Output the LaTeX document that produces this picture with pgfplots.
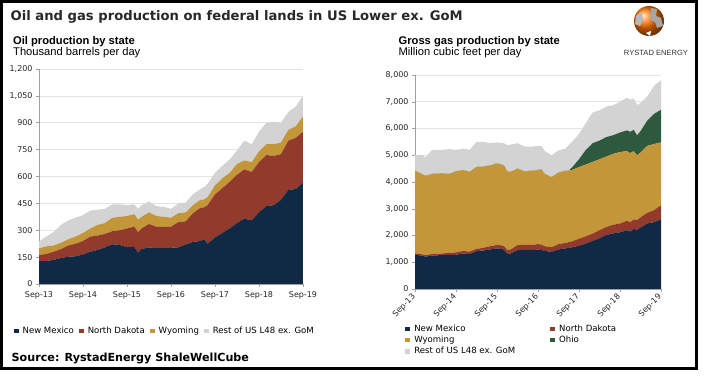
\documentclass[border=0pt]{standalone}
\usepackage{pgfplots}
\pgfplotsset{compat=1.18}
\usepackage{pgfplotstable}
\usepackage{fontspec}
\setmainfont{DejaVu Sans}
\newfontfamily\arial{Liberation Sans}

\definecolor{nm}{RGB}{16,42,70}
\definecolor{nd}{RGB}{146,58,43}
\definecolor{wy}{RGB}{196,150,58}
\definecolor{rest}{RGB}{211,211,211}
\definecolor{oh}{RGB}{45,90,62}
\definecolor{axisgray}{RGB}{160,160,160}
\definecolor{gridgray}{RGB}{228,228,228}
\definecolor{titlegray}{RGB}{40,40,40}

% Oil (thousand barrels per day), month index from Sep-13
\pgfplotstableread{
i  NM  ND  WY  R
0  128 34  37  38
2  128 40  42  55
4  135 45  35  75
6  145 50  35  100
8  152 63  35  105
10 155 70  40  105
12 165 75  45  100
14 180 85  45  100
16 190 80  60  85
18 205 75  60  80
20 222 73  75  75
22 218 82  75  70
24 205 105 70  60
26 208 112 70  55
27 175 115 70  60
28 195 115 65  65
30 205 130 65  60
32 200 120 60  55
34 200 118 57  55
36 202 118 50  50
38 205 140 50  55
40 220 130 50  55
42 235 160 45  60
44 240 185 45  60
45 250 178 44  68
46 225 215 45  75
48 260 240 50  70
50 285 250 55  70
52 310 260 50  75
54 340 270 60  75
56 365 275 50  110
58 355 270 55  100
60 400 280 60  110
62 435 285 60  120
64 440 275 65  125
66 470 255 65  110
68 525 275 60  100
70 530 285 65  110
72 565 285 85  115
}\oiltab

% Gas (million cubic feet per day)
\pgfplotstableread{
i  NM   ND  WY   OH   R
0  1280 40  3100 0    580
2  1250 50  3000 0    720
3  1210 50  2970 0    690
5  1250 60  2990 0    900
8  1270 60  3000 0    870
10 1280 70  2950 0    930
12 1280 90  3030 0    800
14 1330 90  3030 0    800
16 1300 100 2980 0    820
18 1420 80  3060 0    940
20 1440 100 3040 0    920
22 1480 120 3020 0    830
24 1520 130 3050 0    780
26 1480 140 3000 0    830
27 1310 140 2950 0    980
28 1330 150 2900 0    1020
30 1450 190 2860 0    950
32 1460 190 2750 0    930
34 1460 190 2770 0    900
36 1470 210 2770 0    900
37 1460 200 2810 0    880
38 1420 180 2700 0    850
40 1390 170 2620 0    820
42 1480 200 2670 0    830
44 1520 200 2700 0    830
45 1530 220 2680 0    950
46 1560 220 2670 100  950
48 1620 260 2680 290  950
50 1700 270 2680 550  1000
52 1800 270 2680 700  1150
54 1900 300 2650 700  1130
56 2020 300 2630 730  1140
58 2080 320 2650 700  1120
60 2120 330 2670 730  1150
62 2200 350 2600 780  1220
63 2150 350 2580 800  1200
64 2250 350 2550 800  1170
65 2200 380 2420 750  1130
66 2300 380 2420 800  1050
68 2450 400 2500 950  900
70 2500 450 2470 1130 1050
72 2600 530 2350 1220 1100
}\gastab

\pgfplotsset{
  mystyle/.style={
    scale only axis,
    xmin=0, xmax=72, ymin=0,
    axis x line*=bottom, axis y line*=left,
    axis line style={axisgray,-, line width=0.6bp},
    tick style={axisgray, line width=0.5bp},
    tick align=outside,
    major tick length=3bp,
    xtick={0,12,...,72},
    xticklabels={Sep-13,Sep-14,Sep-15,Sep-16,Sep-17,Sep-18,Sep-19},
    ymajorgrids, grid style={gridgray, line width=0.6bp},
    ticklabel style={font=\fontsize{8}{9}\selectfont, text=black!85},
    /pgf/number format/assume math mode=true,
    /pgf/number format/1000 sep={,},
    stack plots=y, area style,
    axis on top=false,
    legend image code/.code={\fill[##1] (0bp,-2.2bp) rectangle (4.4bp,2.2bp);},
    legend cell align=left,
  }
}

\begin{document}
\begin{tikzpicture}
\fill[white] (0,0) rectangle (704bp,378bp);
\draw[black, line width=3bp] (1.5bp,9.5bp) rectangle (696.5bp,376.5bp);

% Titles
\node[anchor=base west, inner sep=0, text=titlegray, font=\bfseries\fontsize{13.2}{15}\selectfont] at (10.5bp,357.5bp) {Oil and gas production on federal lands in US Lower ex. GoM};
\node[anchor=base west, inner sep=0, font=\arial\bfseries\fontsize{11.2}{13}\selectfont] at (13bp,333.5bp) {Oil production by state};
\node[anchor=base west, inner sep=0, font=\arial\fontsize{11.2}{13}\selectfont] at (13bp,322bp) {Thousand barrels per day};
\node[anchor=base west, inner sep=0, font=\arial\bfseries\fontsize{11.2}{13}\selectfont] at (398.5bp,333.5bp) {Gross gas production by state};
\node[anchor=base west, inner sep=0, font=\arial\fontsize{11.2}{13}\selectfont] at (398.5bp,322bp) {Million cubic feet per day};
\node[anchor=base west, inner sep=0, font=\bfseries\fontsize{11.2}{13}\selectfont] at (11.5bp,16.5bp) {Source: RystadEnergy ShaleWellCube};

% Logo
\shade[ball color=orange!90!red] (649bp,357bp) circle (15bp);
\fill[gray!70] (651bp,370bp) -- (657bp,369bp) -- (656bp,362bp) -- (661bp,360bp) -- (663bp,352bp) -- (657bp,350bp) -- (655bp,356bp) -- (650bp,358bp) -- cycle;
\fill[gray!55] (636bp,362bp) -- (641bp,366bp) -- (643bp,358bp) -- (640bp,352bp) -- (635bp,354bp) -- cycle;
\fill[white] (646bp,345bp) -- (651bp,347bp) -- (650bp,342bp) -- cycle;
\node[anchor=base, inner sep=0, text=black!80, font=\arial\fontsize{7.6}{9}\selectfont] at (656bp,322bp) {RYSTAD ENERGY};

% Oil chart
\begin{axis}[mystyle,
  at={(39bp,94bp)}, anchor=south west,
  width=264bp, height=215bp,
  ymax=1200, ytick={0,150,...,1200},
  xticklabel shift=1.5bp,
  legend columns=-1,
  legend style={at={(-0.0947,-0.219)}, anchor=west, draw=none, fill=none,
    font=\fontsize{8.6}{9.5}\selectfont, inner sep=0pt,
    /tikz/every odd column/.append style={column sep=2bp},
    /tikz/every even column/.append style={column sep=3.5bp}},
]
\addplot[fill=nm, draw=none] table[x=i,y=NM]{\oiltab} \closedcycle;
\addplot[fill=nd, draw=none] table[x=i,y=ND]{\oiltab} \closedcycle;
\addplot[fill=wy, draw=none] table[x=i,y=WY]{\oiltab} \closedcycle;
\addplot[fill=rest, draw=none] table[x=i,y=R]{\oiltab} \closedcycle;
\legend{New Mexico, North Dakota, Wyoming, Rest of US L48 ex. GoM}
\end{axis}

% Gas chart
\begin{axis}[mystyle,
  at={(415bp,89bp)}, anchor=south west,
  width=246bp, height=214bp,
  ymax=8000, ytick={0,1000,...,8000},
  xticklabel style={rotate=45, anchor=east, inner sep=1pt},
  xticklabel shift=3bp,
  legend columns=2,
  legend style={at={(-0.04,-0.158)}, anchor=north west, draw=none, fill=none,
    font=\fontsize{8.6}{9.6}\selectfont, inner sep=0pt, row sep=-0.8bp,
    /tikz/every odd column/.append style={column sep=2.5bp},
    /tikz/column 2/.append style={column sep=33bp}},
]
\addplot[fill=nm, draw=none] table[x=i,y=NM]{\gastab} \closedcycle;
\addplot[fill=nd, draw=none] table[x=i,y=ND]{\gastab} \closedcycle;
\addplot[fill=wy, draw=none] table[x=i,y=WY]{\gastab} \closedcycle;
\addplot[fill=oh, draw=none] table[x=i,y=OH]{\gastab} \closedcycle;
\addplot[fill=rest, draw=none] table[x=i,y=R]{\gastab} \closedcycle;
\legend{New Mexico, North Dakota, Wyoming, Ohio, Rest of US L48 ex. GoM}
\end{axis}
\end{tikzpicture}
\end{document}
